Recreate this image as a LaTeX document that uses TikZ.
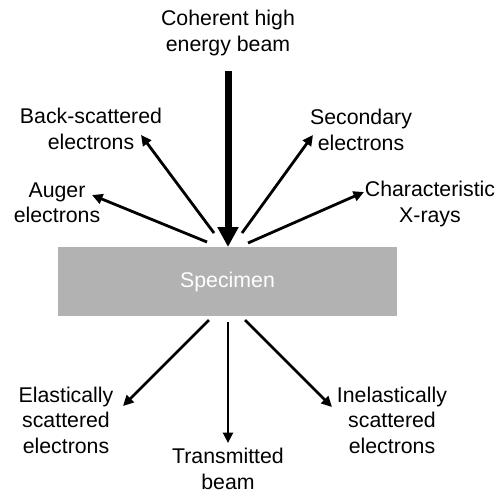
\documentclass[tikz,border=0pt]{standalone}
\usepackage{fontspec}
\setmainfont{Liberation Sans}
\usetikzlibrary{arrows.meta}
\definecolor{specgray}{HTML}{B2B2B2}
\begin{document}
\begin{tikzpicture}[x=1pt,y=-1pt,
  lbl/.style={align=center,inner sep=0pt,font=\fontsize{21.3}{25.5}\selectfont},
  thin/.style={line width=2.8pt,-{Triangle[length=10.5pt,width=10pt]}},
  thick/.style={line width=7pt,-{Triangle[length=20pt,width=20pt]}}]
\useasboundingbox (0,0) rectangle (497,493);
% specimen
\node[fill=specgray,minimum width=339pt,minimum height=69pt,inner sep=0pt,
  text=white,font=\fontsize{21.3}{25.5}\selectfont] (spec) at (227.5,281.5) {Specimen};
% labels
\node[lbl] (beam) at (228,33) {Coherent high\\energy beam};
\node[lbl] (bse) at (91,129) {Back-scattered\\electrons};
\node[lbl] (aug) at (57,203) {Auger\\electrons};
\node[lbl] (sec) at (361,130) {Secondary\\electrons};
\node[lbl] (xr) at (430,204) {Characteristic\\X-rays};
\node[lbl] (el) at (66,420) {Elastically\\scattered\\electrons};
\node[lbl] (tr) at (228,469) {Transmitted\\beam};
\node[lbl] (inel) at (392,420) {Inelastically\\scattered\\electrons};
% coordinates
\coordinate (b0) at (228,71);
\coordinate (b1) at (228,247);
\coordinate (s1) at (214,233); \coordinate (t1) at (141,135);
\coordinate (s2) at (207,242); \coordinate (t2) at (92,195);
\coordinate (s3) at (242,233); \coordinate (t3) at (313,135);
\coordinate (s4) at (248,243); \coordinate (t4) at (364,192);
\coordinate (s5) at (209,320); \coordinate (t5) at (123,406);
\coordinate (s6) at (228,322); \coordinate (t6) at (228,443);
\coordinate (s7) at (245,320); \coordinate (t7) at (332,407);
% arrows
\draw[thick] (b0) -- (b1);
\draw[thin] (s1) -- (t1);
\draw[thin] (s2) -- (t2);
\draw[thin] (s3) -- (t3);
\draw[thin] (s4) -- (t4);
\draw[thin] (s5) -- (t5);
\draw[thin] (s6) -- (t6);
\draw[thin] (s7) -- (t7);
\end{tikzpicture}
\end{document}
